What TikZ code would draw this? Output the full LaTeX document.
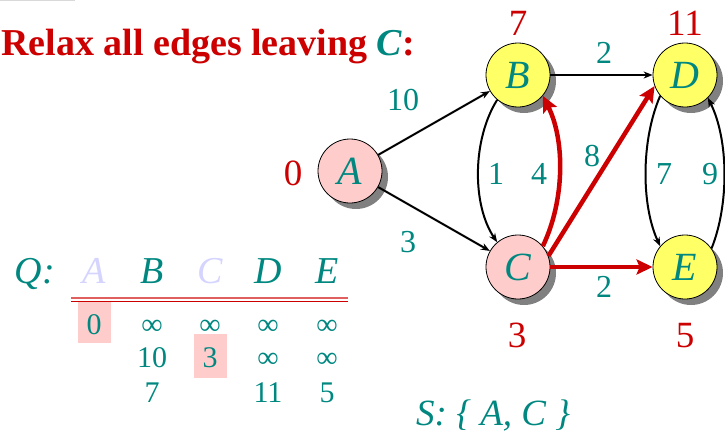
\documentclass[tikz,border=0pt]{standalone}
\usepackage{fontspec}
\setmainfont{Liberation Serif}
\usetikzlibrary{arrows.meta,shadows}
\definecolor{tealc}{RGB}{0,135,128}
\definecolor{redc}{RGB}{204,0,0}
\definecolor{pinkc}{RGB}{255,204,204}
\definecolor{yellowc}{RGB}{255,255,102}
\definecolor{lavc}{RGB}{212,212,255}
\definecolor{lightred}{RGB}{224,96,96}
\newcommand{\fs}[1]{\fontsize{#1}{#1}\selectfont}
\tikzset{
  vert/.style={circle, draw=black, line width=0.8pt, minimum size=64pt, inner sep=0pt,
    text=tealc, font=\fs{40}\itshape,
    general shadow={fill=black!50, shadow xshift=6pt, shadow yshift=-6pt}},
  blk/.style={line width=2pt, black, -{Stealth[length=9pt,width=7pt]}},
  redarr/.style={line width=4.5pt, redc, -{Stealth[length=16pt,width=15pt,inset=3pt]}},
  elab/.style={anchor=base, inner sep=0pt, text=tealc, font=\fs{32}},
  dlab/.style={anchor=base, inner sep=0pt, text=redc, font=\fs{37}},
  qhead/.style={anchor=base, inner sep=0pt, text=tealc, font=\fs{38}\itshape},
  qnum/.style={anchor=base, inner sep=0pt, text=tealc, font=\fs{30}},
}
\begin{document}
\begin{tikzpicture}[x=1pt,y=-1pt]
\useasboundingbox (0,0) rectangle (725,439);
\draw[line width=1.5pt, black!15] (0,0.5) -- (75,0.5);
% title
\node[anchor=base west, inner sep=0pt, text=redc, font=\fs{38}\bfseries] (title) at (1,55)
  {Relax all edges leaving {\color{tealc}\itshape C}:};
% highlight boxes in table
\fill[pinkc] (78,301) rectangle (111,343);
\fill[pinkc] (194,334) rectangle (227,378);
% vertices
\node[vert, fill=pinkc] (A) at (350,171) {A};
\node[vert, fill=yellowc] (B) at (518,75) {B};
\node[vert, fill=pinkc] (C) at (518,267) {C};
\node[vert, fill=yellowc] (D) at (685,75) {D};
\node[vert, fill=yellowc] (E) at (685,267) {E};
% edges
\draw[blk] (A) -- (B);
\draw[blk] (A) -- (C);
\draw[blk] (B) -- (D);
\draw[blk] (B.230) .. controls (472,140) and (472,205) .. (C.130);
\draw[blk] (D.-140) .. controls (641,140) and (641,205) .. (E.140);
\draw[blk] (E.35) .. controls (729,205) and (729,140) .. (D.-45);
\draw[redarr] (C.40) .. controls (565,200) and (565,140) .. (B.-40);
\draw[redarr] (C.20) -- (D.-160);
\draw[redarr] (C) -- (E);
% edge labels
\node[elab] (l10) at (403,110) {10};
\node[elab] (l3) at (408,252) {3};
\node[elab] (l2a) at (604,63) {2};
\node[elab] (l2b) at (604,297) {2};
\node[elab] (l1) at (496,184) {1};
\node[elab] (l4) at (539,184) {4};
\node[elab] (l8) at (592,166) {8};
\node[elab] (l7) at (664,184) {7};
\node[elab] (l9) at (710,184) {9};
% distance labels
\node[dlab] (dB) at (518,35) {7};
\node[dlab] (dD) at (685,35) {11};
\node[dlab] (dA) at (293,185) {0};
\node[dlab] (dC) at (517,347) {3};
\node[dlab] (dE) at (685,347) {5};
% queue table
\node[qhead] (Q) at (35,283) {Q:};
\node[qhead, text=lavc] (hA) at (94,283) {A};
\node[qhead] (hB) at (152,283) {B};
\node[qhead, text=lavc] (hC) at (210,283) {C};
\node[qhead] (hD) at (268,283) {D};
\node[qhead] (hE) at (327,283) {E};
\draw[line width=2.2pt, lightred] (71,298) -- (348,298);
\draw[line width=1.2pt, redc] (71,301.5) -- (348,301.5);
\node[qnum] (r1a) at (94,334) {0};
\node[qnum] (r1b) at (152,334) {∞};
\node[qnum] (r1c) at (210,334) {∞};
\node[qnum] (r1d) at (268,334) {∞};
\node[qnum] (r1e) at (327,334) {∞};
\node[qnum] (r2b) at (152,367) {10};
\node[qnum] (r2c) at (210,367) {3};
\node[qnum] (r2d) at (268,367) {∞};
\node[qnum] (r2e) at (327,367) {∞};
\node[qnum] (r3b) at (152,402) {7};
\node[qnum] (r3d) at (268,402) {11};
\node[qnum] (r3e) at (327,402) {5};
% S set
\node[anchor=base west, inner sep=0pt, text=tealc, font=\fs{37}\itshape] (S) at (416,425)
  {S: \{ A, C \}};
\end{tikzpicture}
\end{document}
